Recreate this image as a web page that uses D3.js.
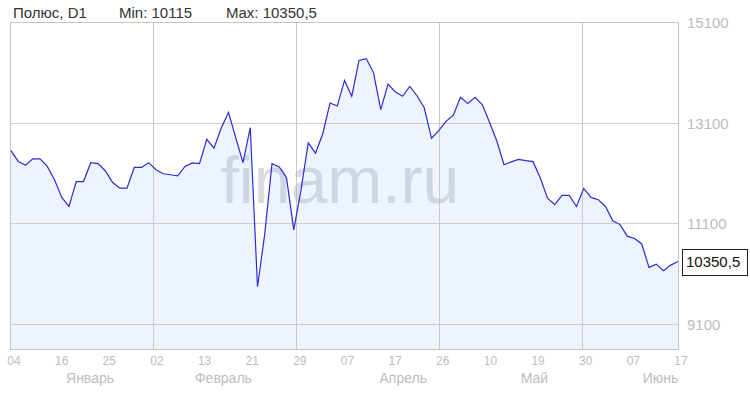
<!DOCTYPE html>
<html>
<head>
<meta charset="utf-8">
<script src="https://cdn.jsdelivr.net/npm/d3@7"></script>
<style>
  body { margin: 0; background: #fff; }
  svg { display: block; font-family: Arial, "Liberation Sans", sans-serif; }
</style>
</head>
<body>
<div id="chart"></div>
<script>
const TITLE = "Полюс, D1"
const MIN_LABEL = "Min: 10115"
const MAX_LABEL = "Max: 10350,5"
const LAST_LABEL = "10350,5"
const WATERMARK = "finam.ru"

// daily closes, 4 Jan .. 17 Jun
const PRICES = [
  12555, 12340, 12265, 12390, 12390, 12240, 11975, 11625, 11445, 11940,
  11940, 12315, 12295, 12155, 11925, 11810, 11810, 12220, 12220, 12315,
  12175, 12095, 12075, 12055, 12240, 12310, 12295, 12780, 12605, 13005,
  13315, 12810, 12315, 13010, 9850, 10900, 12295, 12230, 12015, 10980,
  11775, 12710, 12505, 12890, 13500, 13440, 13950, 13635, 14345, 14380,
  14105, 13370, 13875, 13725, 13635, 13830, 13645, 13405, 12800, 12950,
  13135, 13260, 13615, 13490, 13615, 13470, 13120, 12750, 12275, 12330,
  12380, 12355, 12335, 12015, 11610, 11480, 11665, 11665, 11445, 11805,
  11625, 11580, 11445, 11160, 11085, 10855, 10810, 10700, 10235, 10300,
  10170, 10280, 10350.5
]

const DAY_TICKS = ["04", "16", "25", "02", "13", "21", "29", "07", "17", "26", "10", "19", "30", "07", "17"]
const MONTHS = ["Январь", "Февраль", "Апрель", "Май", "Июнь"]
const MONTH_AT = [10.9, 29.3, 54.1, 72.2, 89.6]   // bar index under which the month name sits
const PRICE_TICKS = [9100, 11100, 13100, 15100]
const GRID_EVERY = 3

const WIDTH = 750
const HEIGHT = 394
const PLOT = {left: 10.5, right: 678.5, top: 22.5, bottom: 349.5}

const svg = d3.select("#chart")
  .append("svg")
  .attr("width", WIDTH)
  .attr("height", HEIGHT)

const x = d3.scaleLinear()
  .domain([0, PRICES.length - 1])
  .range([11, 678])

const y = d3.scaleLinear()
  .domain([9100, 15100])
  .range([324.5, 22.5])

const crisp = v => Math.floor(v) + 0.5
const tickAt = k => k * (PRICES.length - 1) / (DAY_TICKS.length - 1)

// area under the line
svg.append("path")
  .datum(PRICES)
  .attr("d", d3.area()
    .x((_, i) => x(i))
    .y0(PLOT.bottom)
    .y1(d => y(d)))
  .attr("fill", "#edf4fd")

// grid
svg.append("g")
  .selectAll("line")
  .data(PRICE_TICKS.filter(v => v < 15100))
  .enter()
  .append("line")
    .attr("x1", PLOT.left)
    .attr("x2", PLOT.right)
    .attr("y1", d => crisp(y(d)))
    .attr("y2", d => crisp(y(d)))
    .attr("stroke", "#cfcfcf")

svg.append("g")
  .selectAll("line")
  .data(DAY_TICKS.map((_, k) => k).filter(k => k > 0 && k < DAY_TICKS.length - 1 && k % GRID_EVERY === 0))
  .enter()
  .append("line")
    .attr("x1", k => crisp(x(tickAt(k))))
    .attr("x2", k => crisp(x(tickAt(k))))
    .attr("y1", PLOT.top)
    .attr("y2", PLOT.bottom)
    .attr("stroke", "#c8c8c8")

svg.append("rect")
  .attr("x", PLOT.left)
  .attr("y", PLOT.top)
  .attr("width", PLOT.right - PLOT.left)
  .attr("height", PLOT.bottom - PLOT.top)
  .attr("fill", "none")
  .attr("stroke", "#c4c4c4")

// watermark
svg.append("text")
  .attr("x", 340)
  .attr("y", 203)
  .attr("text-anchor", "middle")
  .attr("font-size", 66)
  .attr("fill", "#b3b8c2")
  .attr("fill-opacity", 0.5)
  .text(WATERMARK)

// price line
svg.append("path")
  .datum(PRICES)
  .attr("d", d3.line()
    .x((_, i) => x(i))
    .y(d => y(d)))
  .attr("fill", "none")
  .attr("stroke", "#2b2bd4")
  .attr("stroke-width", 1.2)

// header
const header = svg.append("g")
  .attr("font-size", 15)
  .attr("fill", "#333")
header.append("text").attr("x", 13).attr("y", 18).text(TITLE)
header.append("text").attr("x", 119).attr("y", 18).text(MIN_LABEL)
header.append("text").attr("x", 226).attr("y", 18).text(MAX_LABEL)

// right price labels
svg.append("g")
  .selectAll("text")
  .data(PRICE_TICKS)
  .enter()
  .append("text")
    .attr("x", 687)
    .attr("y", d => y(d))
    .attr("dy", "0.36em")
    .attr("font-size", 15)
    .attr("fill", "#bcbcbc")
    .text(d => d)

// day ticks and months
svg.append("g")
  .selectAll("text")
  .data(DAY_TICKS)
  .enter()
  .append("text")
    .attr("x", (_, k) => x(tickAt(k)) + 3)
    .attr("y", 365)
    .attr("text-anchor", "middle")
    .attr("font-size", 12)
    .attr("fill", "#bcbcbc")
    .text(d => d)

svg.append("g")
  .selectAll("text")
  .data(MONTHS)
  .enter()
  .append("text")
    .attr("x", (_, i) => x(MONTH_AT[i]))
    .attr("y", 383)
    .attr("text-anchor", "middle")
    .attr("font-size", 14)
    .attr("fill", "#bcbcbc")
    .text(d => d)

// last value box
const last = PRICES[PRICES.length - 1]
svg.append("rect")
  .attr("x", 682.5)
  .attr("y", Math.round(y(last)) - 12.5)
  .attr("width", 65)
  .attr("height", 26)
  .attr("fill", "#fff")
  .attr("stroke", "#222")
svg.append("text")
  .attr("x", 686)
  .attr("y", y(last))
  .attr("dy", "0.36em")
  .attr("font-size", 15)
  .attr("fill", "#111")
  .text(LAST_LABEL)
</script>
</body>
</html>
